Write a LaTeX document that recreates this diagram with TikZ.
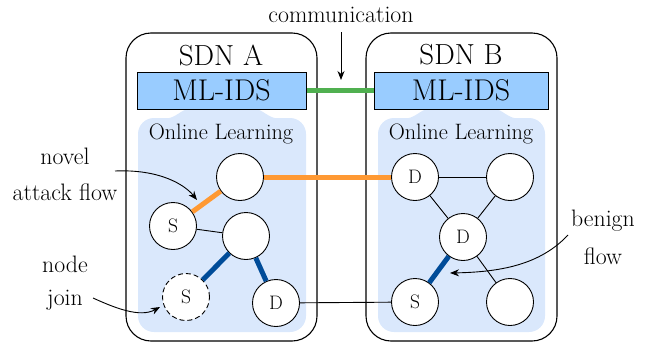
\documentclass[tikz,border=0pt]{standalone}
\usetikzlibrary{arrows.meta}
\definecolor{idsblue}{HTML}{99CCFF}
\definecolor{regblue}{HTML}{DAE8FC}
\definecolor{attack}{HTML}{FF9933}
\definecolor{benign}{HTML}{004C99}
\definecolor{comm}{HTML}{50B050}
\tikzset{
  sdnbox/.style={draw=black, line width=1.1pt, rounded corners=25pt},
  idsbox/.style={draw=black, line width=1pt, fill=idsblue, minimum width=169pt, minimum height=37pt, inner sep=0pt, font=\fontsize{30}{32}\selectfont},
  region/.style={fill=regblue, rounded corners=16pt},
  host/.style={circle, draw=black, line width=0.9pt, fill=white, minimum size=47pt, inner sep=0pt, font=\fontsize{19.5}{21}\selectfont},
  joinhost/.style={host, dashed, dash pattern=on 5pt off 3pt},
  thin/.style={draw=black, line width=0.9pt},
  thickatk/.style={draw=attack, line width=5pt},
  thickben/.style={draw=benign, line width=5pt},
  lbl/.style={font=\fontsize{23.8}{26}\selectfont, inner sep=0pt},
  callout/.style={draw=black, line width=0.9pt, -{Stealth[length=9pt,width=7pt]}},
}
\begin{document}
\begin{tikzpicture}[x=1pt,y=-1pt]
\useasboundingbox (0,0) rectangle (650,343);
% outer SDN boxes
\draw[sdnbox] (126,33) rectangle (317,341);
\draw[sdnbox] (366,33) rectangle (557,341);
\node[font=\fontsize{29}{31}\selectfont] (ta) at (221,55) {SDN A};
\node[font=\fontsize{29}{31}\selectfont] (tb) at (461,55) {SDN B};
% regions
\foreach \xl/\xr in {138/306, 378/545}{
  \fill[region] (\xl,118) rectangle (\xr,332);
  \pgfmathsetmacro{\xc}{(\xl+\xr)/2}
  \fill[regblue] (\xc-60,119) .. controls (\xc-45,119) and (\xc-42,109) .. (\xc-32,109)
     -- (\xc+32,109) .. controls (\xc+42,109) and (\xc+45,119) .. (\xc+60,119) -- cycle;
}
\node[font=\fontsize{22.3}{24}\selectfont] (ola) at (221,134) {Online Learning};
\node[font=\fontsize{22.3}{24}\selectfont] (olb) at (461,134) {Online Learning};
% IDS boxes
\node[idsbox] (idsa) at (221.5,90.5) {ML-IDS};
\node[idsbox, minimum width=174pt] (idsb) at (461,90.5) {ML-IDS};
\draw[draw=comm, line width=5.5pt] (idsa.east) -- (idsb.west);
\node[lbl] (comt) at (341,15) {communication};
\coordinate (comtip) at (341,80);
\draw[draw=black, line width=0.9pt, -{Stealth[length=9pt,width=7pt]}] (341,32) -- (comtip);
% SDN A hosts
\node[host] (a1) at (240,177) {};
\node[host] (as) at (173,226) {S};
\node[host] (a2) at (246,236) {};
\node[joinhost] (aj) at (186,297) {S};
\node[host] (ad) at (276,303) {D};
% SDN B hosts
\node[host] (bd1) at (415,177) {D};
\node[host] (b1) at (510,177) {};
\node[host] (bd2) at (463,237) {D};
\node[host] (bs) at (415,302) {S};
\node[host] (b2) at (510,302) {};
% edges
\draw[thickatk] (a1) -- (as);
\draw[thickatk] (a1) -- (bd1);
\draw[thin] (as) -- (a2);
\draw[thickben] (a2) -- (aj);
\draw[thickben] (a2) -- (ad);
\draw[thin] (ad) -- (bs);
\draw[thin] (bd1) -- (b1);
\draw[thin] (bd1) -- (bd2);
\draw[thin] (b1) -- (bd2);
\draw[thickben] (bd2) -- (bs);
\draw[thin] (bd2) -- (b2);
% labels
\node[lbl] (l1) at (65,156) {novel};
\node[lbl] (l2) at (65,192) {attack flow};
\node[lbl] (l3) at (65,264) {node};
\node[lbl] (l4) at (65,300) {join};
\node[lbl] (l5) at (603,221) {benign};
\node[lbl] (l6) at (603,256) {flow};
\coordinate (c1s) at (115,171);
\coordinate (c1e) at (197,200);
\draw[callout] (c1s) .. controls (160,169) and (185,185) .. (c1e);
\coordinate (c2s) at (93,298);
\coordinate (c2e) at (160,307);
\draw[callout] (c2s) .. controls (115,308) and (140,318) .. (c2e);
\coordinate (c3s) at (568,235);
\coordinate (c3e) at (450,273);
\draw[callout] (c3s) .. controls (540,265) and (500,272) .. (c3e);
\end{tikzpicture}
\end{document}
